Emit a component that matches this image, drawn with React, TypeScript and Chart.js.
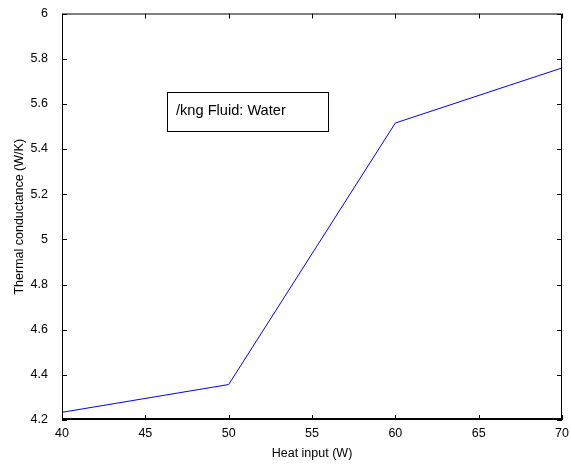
import React, { useEffect, useRef } from "react";
import { Chart, registerables } from "chart.js";

Chart.register(...registerables);

const heatInput = [40, 50, 60, 70];
const conductance = [4.234, 4.357, 5.515, 5.759];
const legendText = "/kng Fluid: Water";
const xTitle = "Heat input (W)";
const yTitle = "Thermal conductance (W/K)";

const FONT = "'Liberation Sans', Arial, sans-serif";

const framePlugin = {
  id: "frame",
  afterDraw(chart: any) {
    const { ctx, chartArea: a, scales } = chart;
    const xs = scales.x;
    const ys = scales.y;
    ctx.save();
    ctx.strokeStyle = "#000";
    ctx.lineWidth = 1;
    ctx.beginPath();
    ctx.rect(a.left + 0.5, a.top + 0.5, a.right - a.left - 1, a.bottom - a.top - 1);
    ctx.stroke();
    ctx.beginPath();
    ctx.lineWidth = 2;
    ctx.moveTo(a.left, a.bottom - 1);
    ctx.lineTo(a.right, a.bottom - 1);
    ctx.stroke();
    ctx.lineWidth = 1;
    const tl = 5;
    ctx.beginPath();
    xs.ticks.forEach((t: any) => {
      const px = Math.round(xs.getPixelForValue(t.value)) + 0.5;
      ctx.moveTo(px, a.bottom);
      ctx.lineTo(px, a.bottom - tl);
      ctx.moveTo(px, a.top);
      ctx.lineTo(px, a.top + tl);
    });
    ys.ticks.forEach((t: any) => {
      const py = Math.round(ys.getPixelForValue(t.value)) + 0.5;
      ctx.moveTo(a.left, py);
      ctx.lineTo(a.left + tl, py);
      ctx.moveTo(a.right, py);
      ctx.lineTo(a.right - tl, py);
    });
    ctx.stroke();
    // legend box
    const bx = 167, by = 92, bw = 161, bh = 39;
    ctx.fillStyle = "#fff";
    ctx.fillRect(bx, by, bw, bh);
    ctx.strokeStyle = "#000";
    ctx.strokeRect(bx + 0.5, by + 0.5, bw, bh);
    ctx.fillStyle = "#000";
    ctx.font = `14.6px ${FONT}`;
    ctx.textBaseline = "middle";
    ctx.textAlign = "left";
    ctx.fillText(legendText, bx + 9, by + bh / 2 - 1);
    ctx.restore();
  },
};

export default function App() {
  const ref = useRef<HTMLCanvasElement>(null);
  useEffect(() => {
    document.body.style.margin = "0";
    const chart = new Chart(ref.current!, {
      type: "line",
      data: {
        datasets: [
          {
            data: heatInput.map((x, i) => ({ x, y: conductance[i] })),
            borderColor: "rgb(0,0,255)",
            borderWidth: 1,
            pointRadius: 0,
            tension: 0,
            fill: false,
          },
        ],
      },
      options: {
        animation: false,
        responsive: false,
        devicePixelRatio: 1,
        layout: { padding: { left: 0, right: 9, top: 12, bottom: 5 } },
        plugins: { legend: { display: false }, tooltip: { enabled: false } },
        scales: {
          x: {
            type: "linear",
            min: 40,
            max: 70,
            ticks: { stepSize: 5, color: "#000", font: { family: FONT, size: 12.5 }, padding: -2, maxRotation: 0 },
            grid: { display: false },
            border: { display: false },
            title: { display: true, text: xTitle, color: "#000", font: { family: FONT, size: 12.5 }, padding: { top: 0, bottom: 0 } },
            afterFit: (s: any) => { s.height = 41; },
          },
          y: {
            type: "linear",
            min: 4.2,
            max: 6,
            ticks: { stepSize: 0.2, color: "#000", font: { family: FONT, size: 12.5 }, padding: 6, callback: (v: any) => String(Math.round(Number(v) * 10) / 10) },
            grid: { display: false },
            border: { display: false },
            title: { display: true, text: yTitle, color: "#000", font: { family: FONT, size: 12.5 }, padding: { top: 12, bottom: 0 } },
            afterFit: (s: any) => { s.width = 62; },
          },
        },
      },
      plugins: [framePlugin],
    });
    return () => chart.destroy();
  }, []);
  return <canvas ref={ref} width={571} height={466} style={{ display: "block" }} />;
}
